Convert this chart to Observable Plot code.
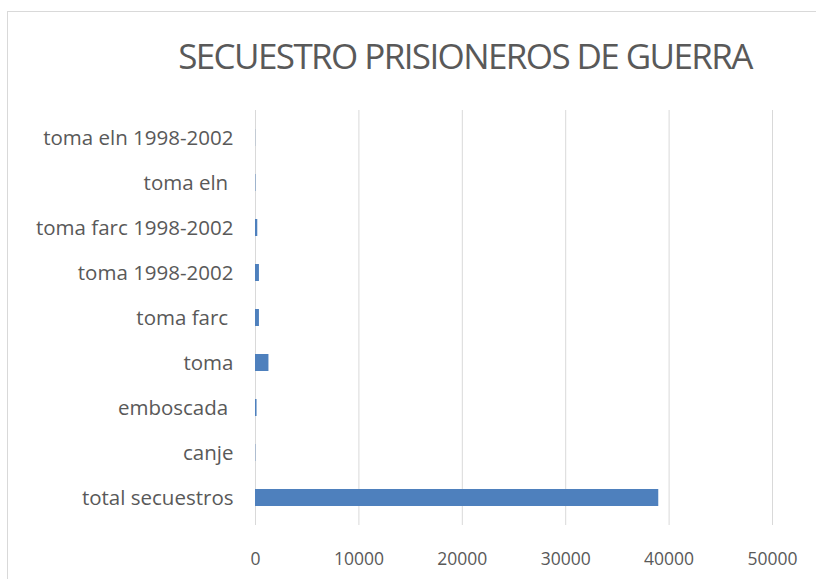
<!DOCTYPE html>
<html><head><meta charset="utf-8">
<script src="https://cdn.jsdelivr.net/npm/d3@7"></script>
<script src="https://cdn.jsdelivr.net/npm/@observablehq/plot@0.6"></script>
<style>
body{margin:0;background:#fff;overflow:hidden;font-family:"Open Sans",sans-serif;}
#frame{position:absolute;left:7px;top:11px;width:900px;height:700px;border:1px solid #d9d9d9;}
#title{position:absolute;left:0;width:930px;top:32px;text-align:center;font-size:35px;color:#595959;font-weight:400;letter-spacing:-1.6px;}
#chart{position:absolute;left:0;top:95px;}
</style></head><body>
<div id="frame"></div>
<div id="title">SECUESTRO PRISIONEROS DE GUERRA</div>
<div id="chart"></div>
<script>
const categories = ["toma eln 1998-2002","toma eln ","toma farc 1998-2002","toma 1998-2002","toma farc ","toma","emboscada ","canje","total secuestros"];
const values = [15, 40, 220, 380, 380, 1300, 150, 30, 39000];
const xTicks = [0,10000,20000,30000,40000,50000];
const data = categories.map((c,i)=>({cat:c, v:values[i]}));
const chart = Plot.plot({
  width:816, height:484,
  marginLeft:255, marginRight:44, marginTop:15, marginBottom:54,
  style:{fontFamily:"'Open Sans', sans-serif", fontSize:"17px", color:"#595959", background:"transparent"},
  x:{domain:[0,50000], ticks:xTicks, tickFormat:d=>String(d), label:null},
  y:{domain:categories, paddingInner:0.63, paddingOuter:0.36, label:null},
  marks:[
    Plot.ruleX(xTicks, {stroke:"#d9d9d9", strokeWidth:1, strokeOpacity:1}),
    Plot.axisX({ticks:xTicks, tickFormat:d=>String(d), tickSize:0, tickPadding:27, fill:"#595959", label:null, fontSize:17.5}),
    Plot.axisY({tickSize:0, tickPadding:22, fill:"#595959", label:null, fontSize:20.5}),
    Plot.barX(data, {y:"cat", x:"v", fill:"#4e80bd"})
  ]
});
document.getElementById("chart").appendChild(chart);
</script>
</body></html>
